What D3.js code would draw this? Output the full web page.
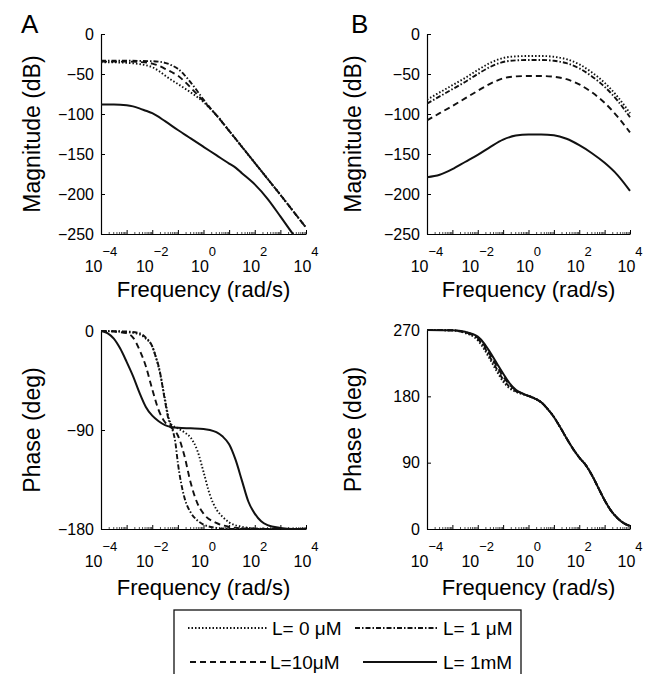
<!DOCTYPE html>
<html>
<head>
<meta charset="utf-8">
<script src="https://cdn.jsdelivr.net/npm/d3@7"></script>
<style>
body{margin:0;background:#fff;}
svg{display:block;font-family:"Liberation Sans",Arial,Helvetica,sans-serif;}
</style>
</head>
<body>
<div id="chart"></div>
<script>
// values: [log10(frequency), value]
var legendLabels = ["L= 0 \u03bcM", "L= 1 \u03bcM", "L=10\u03bcM", "L= 1mM"];
var decadeExps = [-4, -3, -2, -1, 0, 1, 2, 3, 4];
var xLabelExps = [-4, -2, 0, 2, 4];
var magTicks = [0, -50, -100, -150, -200, -250];
var phaseATicks = [0, -90, -180];
var phaseBTicks = [0, 90, 180, 270];

// A - magnitude (dB)
var magA_L0 = [[-4,-35.5],[-3.5,-35.5],[-3,-36],[-2.5,-37.5],[-2.25,-39],[-2,-41.5],[-1.75,-46],[-1.5,-52],[-1.25,-57.5],[-1,-62.5],[-0.5,-73],[0,-85],[0.25,-93],[0.5,-101],[1,-121],[1.5,-141],[2,-161],[2.5,-181],[3,-201],[3.5,-221.5],[4,-242]];
var magA_L1 = [[-4,-33.5],[-3,-33.5],[-2,-34],[-1.5,-36],[-1.25,-39],[-1,-43.5],[-0.75,-51],[-0.5,-60.5],[-0.25,-71],[0,-82],[0.25,-92],[0.5,-101.5],[1,-121],[1.5,-141],[2,-161],[2.5,-181],[3,-201],[3.5,-221.5],[4,-242]];
var magA_L10 = [[-4,-34.5],[-3,-34.5],[-2.5,-35],[-2,-37],[-1.75,-39.5],[-1.5,-43.5],[-1.25,-47.5],[-1,-52],[-0.75,-59],[-0.5,-67],[-0.25,-75.5],[0,-84],[0.25,-92.5],[0.5,-101.5],[1,-121],[1.5,-141],[2,-161],[2.5,-181],[3,-201],[3.5,-221.5],[4,-242]];
var magA_1mM = [[-4,-88],[-3.5,-88],[-3,-89],[-2.75,-90.5],[-2.5,-93],[-2.25,-96],[-2,-99],[-1.5,-109],[-1,-120],[-0.5,-130.5],[0,-141],[0.5,-151.5],[1,-162],[1.25,-167],[1.5,-174],[2,-188],[2.5,-206],[3,-228],[3.5,-250.5],[4,-271]];

// B - magnitude (dB)
var magB_L0 = [[-4,-82],[-3.5,-73],[-3,-64],[-2.5,-55],[-2,-45],[-1.5,-36],[-1,-30],[-0.5,-28],[0,-27.5],[0.5,-27.5],[1,-28.5],[1.5,-31.5],[2,-38],[2.5,-48],[3,-61],[3.5,-78],[4,-99]];
var magB_L1 = [[-4,-87],[-3.5,-78],[-3,-69],[-2.5,-60],[-2,-50],[-1.5,-41],[-1,-35],[-0.5,-33],[0,-32.5],[0.5,-32.5],[1,-33.5],[1.5,-36.5],[2,-43],[2.5,-53],[3,-66],[3.5,-83],[4,-104]];
var magB_L10 = [[-4,-108],[-3.5,-99],[-3,-90],[-2.5,-80.5],[-2,-71],[-1.5,-62],[-1,-55.5],[-0.5,-53],[0,-52.5],[0.5,-52.5],[1,-53.5],[1.5,-56.5],[2,-63],[2.5,-73],[3,-86],[3.5,-103],[4,-123]];
var magB_1mM = [[-4,-179],[-3.5,-176],[-3,-169],[-2.5,-160],[-2,-151],[-1.5,-141],[-1,-132],[-0.5,-127],[0,-125.5],[0.5,-125.5],[1,-126.5],[1.5,-131],[2,-139],[2.5,-149],[3,-161],[3.5,-176],[4,-196]];

// A - phase (deg)
var phaseA_L0 = [[-4,0],[-3,-1],[-2.5,-3],[-2.25,-7],[-2,-14],[-1.83,-26],[-1.75,-33],[-1.5,-62],[-1.37,-78],[-1.25,-85],[-1,-88.5],[-0.75,-92],[-0.5,-97],[-0.25,-108],[0,-128],[0.25,-149],[0.5,-162],[0.75,-169],[1,-174],[1.5,-178],[2,-179.5],[3,-180],[4,-180]];
var phaseA_L1 = [[-4,0],[-3,-0.5],[-2.5,-2],[-2.25,-6],[-2,-14],[-1.83,-26],[-1.75,-32],[-1.5,-64],[-1.37,-80],[-1.25,-87],[-1.1,-101],[-1,-120],[-0.75,-151],[-0.5,-165],[-0.25,-172],[0,-176],[0.5,-179],[1,-180],[4,-180]];
var phaseA_L10 = [[-4,0],[-3.5,-0.5],[-3,-2],[-2.75,-6],[-2.5,-17],[-2.25,-32],[-2,-53],[-1.75,-72],[-1.5,-83],[-1.25,-88],[-1,-95],[-0.75,-113],[-0.5,-138],[-0.25,-156],[0,-166],[0.5,-174.5],[1,-178],[1.5,-179.5],[2,-180],[4,-180]];
var phaseA_1mM = [[-4,0],[-3.75,-2],[-3.5,-7],[-3.25,-16],[-3,-28],[-2.75,-41],[-2.5,-56],[-2.25,-69],[-2,-77],[-1.75,-82],[-1.5,-85.5],[-1,-88],[-0.5,-88.5],[0,-89],[0.25,-90],[0.5,-92],[0.75,-96],[1,-103],[1.25,-117],[1.5,-136],[1.75,-155],[2,-166],[2.25,-173],[2.5,-176.5],[3,-179],[3.5,-180],[4,-180]];

// B - phase (deg); above 10^0 all four curves sit on the same trace
var phaseB_tail = [[0.25,177],[0.5,172],[0.75,163],[1,152],[1.25,138],[1.5,123],[1.75,109],[2,97],[2.25,87],[2.5,73],[2.75,56],[3,39],[3.25,25],[3.5,15],[3.75,8],[4,4]];
var phaseB_L0 = [[-4,270],[-3,269.5],[-2.5,266],[-2,256],[-1.75,244],[-1.5,229],[-1.25,214],[-1,200],[-0.75,191],[-0.5,186],[-0.25,183],[0,180.5]];
var phaseB_L1 = [[-4,270],[-3,269.5],[-2.5,266.5],[-2,258],[-1.75,247],[-1.5,232],[-1.25,217],[-1,203],[-0.75,193],[-0.5,187],[-0.25,183.5],[0,180.5]];
var phaseB_L10 = [[-4,270],[-3,269.5],[-2.5,267],[-2,259.5],[-1.75,249.5],[-1.5,235.5],[-1.25,221],[-1,207],[-0.75,196],[-0.5,188],[-0.25,184],[0,180.5]];
var phaseB_1mM = [[-4,270],[-3,269.5],[-2.5,267.5],[-2,261],[-1.75,252],[-1.5,239],[-1.25,225],[-1,211],[-0.75,198],[-0.5,189],[-0.25,184],[0,180.5]];

// line styles in legend order: dotted, dash-dot, dashed, solid
var dashes = ["1.5,2", "5,2,1.5,2", "6,4", null];

var svgWidth = 652, svgHeight = 674;
var svg = d3.select("#chart").append("svg")
    .attr("width", svgWidth)
    .attr("height", svgHeight);

var clipId = 0;

function drawPanel(box, yDomain, yTicks, series, yLabel, yLabelX, xLabelY){
    var x = d3.scaleLog().domain([1e-4, 1e4]).range([box.left, box.right]);
    var y = d3.scaleLinear().domain(yDomain).range([box.bottom, box.top]);

    // clip the curves to the axes box
    clipId++;
    svg.append("clipPath").attr("id", "clip" + clipId)
        .append("rect")
        .attr("x", box.left).attr("y", box.top - 1)
        .attr("width", box.right - box.left + 2)
        .attr("height", box.bottom - box.top + 2);

    // minor log ticks
    var minor = [];
    for (var e = -4; e < 4; e++){
        for (var m = 2; m <= 9; m++) minor.push(m * Math.pow(10, e));
    }
    var minorAxis = svg.append("g")
        .attr("transform", `translate(0, ${box.bottom})`)
        .call(d3.axisBottom(x).tickValues(minor).tickSize(-2).tickFormat(""));
    minorAxis.select(".domain").remove();
    minorAxis.selectAll("line").attr("stroke-width", 0.7);

    // x axis with decade ticks
    var xAxis = svg.append("g")
        .attr("transform", `translate(0, ${box.bottom})`)
        .call(d3.axisBottom(x)
            .tickValues(decadeExps.map(d => Math.pow(10, d)))
            .tickSize(-4).tickSizeOuter(0).tickFormat(""));
    xAxis.select(".domain").attr("stroke-width", 1.2);

    // y axis
    var yAxis = svg.append("g")
        .attr("transform", `translate(${box.left}, 0)`)
        .call(d3.axisLeft(y).tickValues(yTicks).tickSize(-4).tickSizeOuter(0).tickPadding(7));
    yAxis.select(".domain").attr("stroke-width", 1.2);
    yAxis.selectAll("text")
        .attr("font-size", 16)
        .attr("font-family", "Liberation Sans, Arial, sans-serif");

    // 10^n tick labels
    var xl = svg.append("g");
    xLabelExps.forEach(function(p){
        var t = xl.append("text")
            .attr("x", x(Math.pow(10, p)))
            .attr("y", box.bottom + 38)
            .attr("text-anchor", "middle")
            .attr("font-size", 16);
        t.append("tspan").text("10");
        t.append("tspan")
            .attr("dy", -16)
            .attr("font-size", 13)
            .text(p < 0 ? "\u2212" + Math.abs(p) : p);
    });

    // curves
    var line = d3.line()
        .x(d => x(Math.pow(10, d[0])))
        .y(d => y(d[1]))
        .curve(d3.curveMonotoneX);

    var g = svg.append("g").attr("clip-path", `url(#clip${clipId})`);
    series.forEach(function(s, i){
        g.append("path")
            .attr("d", line(s))
            .attr("fill", "none")
            .attr("stroke", "#111")
            .attr("stroke-width", i == 3 ? 2 : 1.9)
            .attr("stroke-dasharray", dashes[i]);
    });

    // axis titles
    svg.append("text")
        .attr("x", (box.left + box.right) / 2)
        .attr("y", xLabelY)
        .attr("text-anchor", "middle")
        .attr("font-size", 22)
        .text("Frequency (rad/s)");

    svg.append("text")
        .attr("transform", `translate(${yLabelX}, ${(box.top + box.bottom) / 2}) rotate(-90)`)
        .attr("text-anchor", "middle")
        .attr("font-size", 23)
        .text(yLabel);
}

drawPanel({left: 101, right: 306, top: 34, bottom: 234}, [-250, 0], magTicks,
    [magA_L0, magA_L1, magA_L10, magA_1mM], "Magnitude (dB)", 40, 297);
drawPanel({left: 427, right: 630, top: 34, bottom: 234}, [-250, 0], magTicks,
    [magB_L0, magB_L1, magB_L10, magB_1mM], "Magnitude (dB)", 361, 297);
drawPanel({left: 101, right: 306, top: 331, bottom: 529}, [-180, 0], phaseATicks,
    [phaseA_L0, phaseA_L1, phaseA_L10, phaseA_1mM], "Phase (deg)", 40, 595);
drawPanel({left: 427, right: 630, top: 330, bottom: 529}, [0, 270], phaseBTicks,
    [phaseB_L0.concat(phaseB_tail), phaseB_L1.concat(phaseB_tail), phaseB_L10.concat(phaseB_tail), phaseB_1mM.concat(phaseB_tail)],
    "Phase (deg)", 361, 595);

// panel letters
svg.append("text").attr("x", 21).attr("y", 33).attr("font-size", 26).text("A");
svg.append("text").attr("x", 351).attr("y", 33).attr("font-size", 26).text("B");

// legend
var legend = svg.append("g");
legend.append("rect")
    .attr("x", 174).attr("y", 610)
    .attr("width", 347).attr("height", 80)
    .attr("fill", "#fff")
    .attr("stroke", "#111")
    .attr("stroke-width", 1.3);

var legendPos = [
    {x1: 188, x2: 267, tx: 272, y: 628},
    {x1: 355, x2: 437, tx: 443, y: 628},
    {x1: 190, x2: 267, tx: 270, y: 662},
    {x1: 363, x2: 437, tx: 443, y: 662}
];
legendLabels.forEach(function(lbl, i){
    var p = legendPos[i];
    legend.append("line")
        .attr("x1", p.x1).attr("x2", p.x2)
        .attr("y1", p.y).attr("y2", p.y)
        .attr("stroke", "#111")
        .attr("stroke-width", i == 3 ? 2 : 1.8)
        .attr("stroke-dasharray", dashes[i]);
    legend.append("text")
        .attr("x", p.tx).attr("y", p.y + 7)
        .attr("font-size", 19)
        .text(lbl);
});
</script>
</body>
</html>
